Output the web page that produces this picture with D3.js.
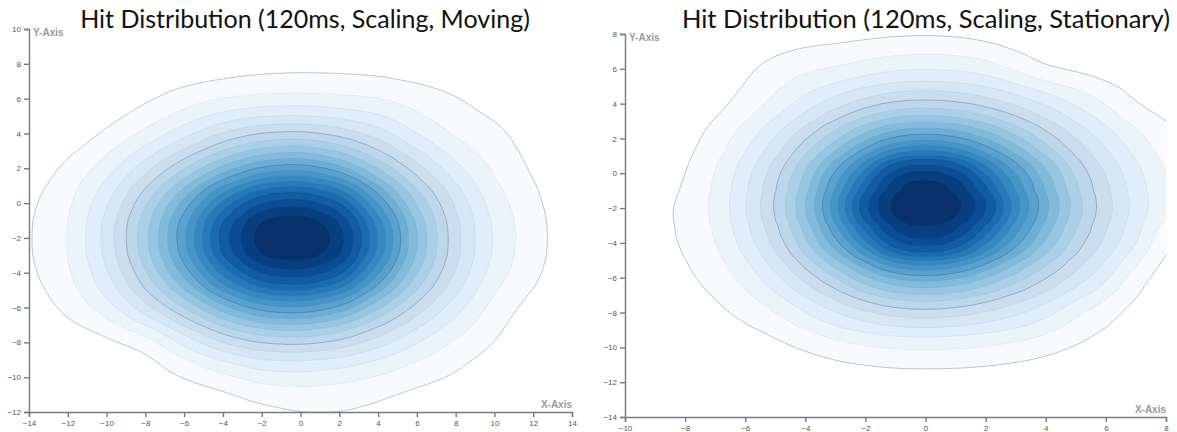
<!DOCTYPE html>
<html><head><meta charset="utf-8">
<script src="https://cdn.jsdelivr.net/npm/d3@7"></script>
<style>
body{margin:0;background:#fff;}
svg{display:block;}
.axis text{font-family:"Liberation Sans",Arial,sans-serif;font-size:8px;fill:#555;}
.axis path,.axis line{stroke:#7a7a7a;stroke-width:1.4;}
.axlabel{font-family:"Liberation Sans",Arial,sans-serif;font-size:10px;font-weight:bold;fill:#9a9a9a;}
.title{font-family:Lato,"Open Sans",sans-serif;fill:#111;}
</style></head><body>
<svg id="chart" width="1177" height="432"></svg>
<script>
// ---------- DATA ----------
const titles = ["Hit Distribution (120ms, Scaling, Moving)", "Hit Distribution (120ms, Scaling, Stationary)"];

// Moving: binned hit counts (2x2 bins), rows = y, cols = x
const movingBinX = [-14,-12,-10,-8,-6,-4,-2,0,2,4,6,8,10,12,14];
const movingBinY = [10,8,6,4,2,0,-2,-4,-6,-8,-10,-12];
const movingCounts = [
  [0,0,0,0,0,0,0,0,0,0,0,0,0,0,0],
  [0,0,0,0,0.2,0.4,0.55,0.6,0.6,0.5,0.35,0.15,0,0,0],
  [0,0,0.2,0.75,1.4,1.8,2.0,2.05,1.95,1.9,1.5,1.1,0.5,0,0],
  [0,0.25,1.05,2.1,3.4,5.0,5.9,6.1,5.5,4.4,2.8,1.7,1.3,0.5,0],
  [0.35,1.25,2.5,4.6,6.9,9.2,11.1,11.6,10.3,7.8,5.4,3.25,1.75,0.85,0.1],
  [0.85,1.75,3.9,7.0,10.6,14.8,17.8,18.3,16.8,12.2,8.0,4.9,2.5,1.25,0.3],
  [0.95,1.95,4.5,7.9,12.2,17.3,20.5,20.9,19.5,14.6,9.25,5.4,2.9,1.4,0.4],
  [0.85,1.8,3.9,7.0,10.6,14.9,17.8,18.3,17.1,12.5,8.2,5.0,2.55,1.25,0.3],
  [0.38,1.3,2.6,4.8,7.1,9.6,11.6,12.0,10.7,8.1,5.6,3.4,1.5,0.6,0.1],
  [0.05,0.2,0.55,1.1,3.0,4.9,5.8,6.0,5.5,4.3,2.9,1.75,1.0,0.2,0],
  [0,0,0.05,0.3,0.85,1.4,2.2,2.3,2.05,1.7,1.25,0.85,0.2,0,0],
  [0,0,0,0,0.1,0.3,0.6,0.95,1.0,0.7,0.3,0.1,0,0,0]
];

// Stationary: binned hit counts (1x2 bins), rows = y, cols = x
const stationaryBinX = [-10,-9,-8,-7,-6,-5,-4,-3,-2,-1,0,1,2,3,4,5,6,7,8,9,10];
const stationaryBinY = [8,6,4,2,0,-2,-4,-6,-8,-10,-12,-14];
const stationaryCounts = [
  [0,0,0,0,0,0.3,0.55,0.6,0.7,0.8,0.83,0.79,0.6,0.35,0.15,0.05,0,0,0,0,0],
  [0,0,0,0.1,0.8,1.4,1.8,2.0,2.4,2.73,2.83,2.73,2.46,1.7,0.95,0.75,0.5,0.3,0.1,0,0],
  [0,0,0.2,0.66,1.33,2.23,3.38,4.49,5.44,6.1,6.26,6.08,5.53,4.75,3.85,2.84,1.94,0.9,0.6,0.3,0.1],
  [0,0.12,0.61,1.37,2.53,4.07,5.87,7.7,9.7,11.13,11.6,11.1,9.9,8.29,6.52,4.98,3.6,2.33,1.37,0.69,0.24],
  [0,0.3,0.94,1.98,3.6,5.58,8.14,11.27,14.5,18.3,18.9,18.2,15.0,12.07,9.33,6.78,4.93,3.33,1.98,1.02,0.44],
  [0,0.65,1.25,2.21,3.96,6.1,9.0,12.8,17.5,19.8,20.4,19.7,17.8,13.6,10.43,7.53,5.42,3.67,2.21,1.19,0.53],
  [0,0.55,1.15,1.88,3.42,5.32,7.7,10.67,13.8,17.4,18.0,17.3,14.2,11.43,8.83,6.52,4.73,3.15,0.95,0.4,0.1],
  [0,0.08,0.8,1.4,2.27,3.71,5.33,6.88,8.71,10.0,10.4,9.97,8.89,7.4,6.02,4.6,3.24,1.3,0.5,0.2,0.05],
  [0,0,0.13,0.75,1.25,1.9,2.89,3.91,4.75,5.31,5.49,5.29,4.82,4.16,3.31,2.1,1.3,0.6,0.3,0.1,0],
  [0,0,0,0,0.3,0.66,1.06,1.45,1.75,1.95,2.0,1.95,1.8,1.55,1.27,0.87,0.55,0.26,0,0,0],
  [0,0,0,0,0,0,0.1,0.2,0.3,0.4,0.4,0.4,0.35,0.25,0.15,0.05,0,0,0,0,0],
  [0,0,0,0,0,0,0,0,0,0,0,0,0,0,0,0,0,0,0,0,0]
];

const movingXTicks = [-14,-12,-10,-8,-6,-4,-2,0,2,4,6,8,10,12,14];
const movingYTicks = [-12,-10,-8,-6,-4,-2,0,2,4,6,8,10];
const stationaryXTicks = [-10,-8,-6,-4,-2,0,2,4,6,8];
const stationaryYTicks = [-14,-12,-10,-8,-6,-4,-2,0,2,4,6,8];
const contourLevels = [1,2,3,4,5,6,7,8,9,10,11,12,13,14,15,16,17,18,19];
const axisNames = ["X-Axis", "Y-Axis"];

// ---------- DRAW ----------
const svg = d3.select("#chart");

function drawChart(opt) {
  const {id, left, top, w, h, xDom, yDom, binX, binY, counts, xTicks, yTicks, title, titleX, titleW, bw} = opt;
  const x = d3.scaleLinear().domain(xDom).range([0, w]);
  const y = d3.scaleLinear().domain(yDom).range([h, 0]);
  const hits = [];
  counts.forEach((row, r) => row.forEach((c, k) => { if (c > 0) hits.push({x: binX[k], y: binY[r], w: c}); }));

  const PAD = 130;
  const nL = contourLevels.length + 1;
  const contours = d3.contourDensity()
    .x(d => x(d.x) + PAD)
    .y(d => y(d.y) + PAD)
    .weight(d => d.w)
    .size([w + 2 * PAD, h + 2 * PAD])
    .cellSize(1)
    .bandwidth(bw)
    .thresholds(values => { const mx = d3.max(values); return contourLevels.map(l => mx * l / nL); })
    (hits);

  const g = svg.append("g").attr("transform", `translate(${left},${top})`);
  g.append("clipPath").attr("id", "clip" + id).append("rect").attr("width", w).attr("height", h);
  const n = contours.length;
  g.append("g").attr("clip-path", `url(#clip${id})`)
    .append("g").attr("transform", `translate(${-PAD},${-PAD})`)
    .selectAll("path").data(contours).join("path")
    .attr("d", d3.geoPath())
    .attr("fill", (d, i) => d3.interpolateBlues(i / (n - 1)))
    .attr("stroke", (d, i) => i % 5 === 0 ? "rgba(40,50,80,0.32)" : "rgba(50,80,130,0.12)")
    .attr("stroke-width", (d, i) => i % 5 === 0 ? 0.9 : 0.7)
    .attr("stroke-linejoin", "round");

  g.append("g").attr("class", "axis").attr("transform", `translate(0,${h})`)
    .call(d3.axisBottom(x).tickValues(xTicks).tickSize(5));
  g.append("g").attr("class", "axis")
    .call(d3.axisLeft(y).tickValues(yTicks).tickSize(5));

  g.append("text").attr("class", "axlabel").attr("x", 4).attr("y", 7).text(axisNames[1]);
  g.append("text").attr("class", "axlabel").attr("x", w).attr("y", h - 4).attr("text-anchor", "end").text(axisNames[0]);

  const t = svg.append("text").attr("class", "title").attr("x", titleX).attr("y", 28)
    .attr("text-anchor", "middle").style("font-size", "25px").text(title);
  const len = t.node().getComputedTextLength();
  t.style("font-size", (25 * titleW / len).toFixed(2) + "px");
}

drawChart({id: "m", left: 29, top: 29, w: 543, h: 383, xDom: [-14, 14], yDom: [-12, 10],
  binX: movingBinX, binY: movingBinY, counts: movingCounts, xTicks: movingXTicks, yTicks: movingYTicks,
  title: titles[0], titleX: 305, titleW: 450, bw: 18.5});
drawChart({id: "s", left: 625, top: 34, w: 541, h: 383, xDom: [-10, 8], yDom: [-14, 8],
  binX: stationaryBinX, binY: stationaryBinY, counts: stationaryCounts, xTicks: stationaryXTicks, yTicks: stationaryYTicks,
  title: titles[1], titleX: 926, titleW: 488, bw: 16});
</script>
</body></html>
